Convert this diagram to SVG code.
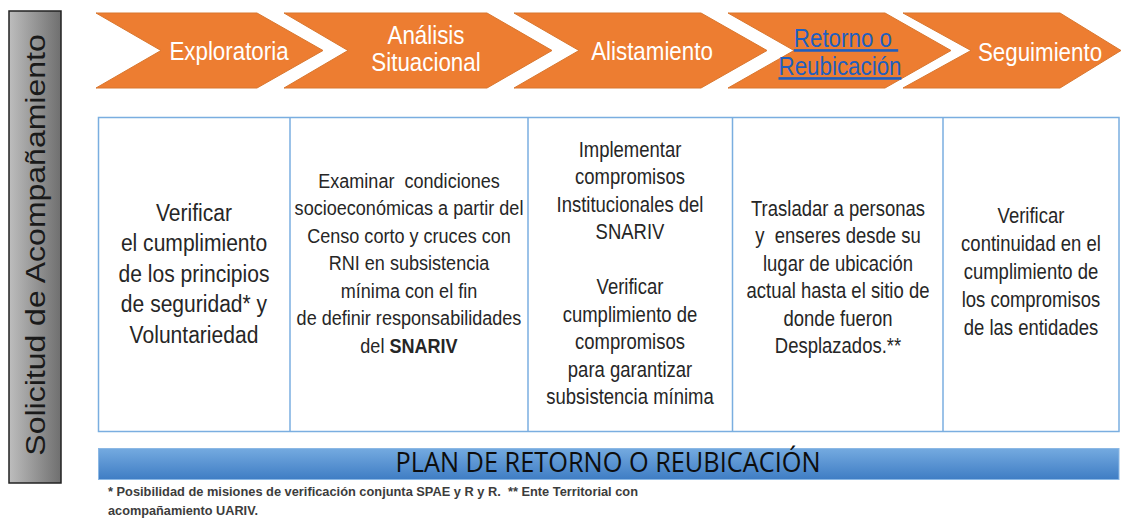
<svg xmlns="http://www.w3.org/2000/svg" width="1121" height="519" viewBox="0 0 1121 519">
<defs>
<linearGradient id="gBar" x1="0" y1="0" x2="1" y2="0">
<stop offset="0" stop-color="#bdbdbd"/>
<stop offset="1" stop-color="#6f6f6f"/>
</linearGradient>
<linearGradient id="gBlue" x1="0" y1="0" x2="0" y2="1">
<stop offset="0" stop-color="#74aae0"/>
<stop offset="1" stop-color="#3f7dc4"/>
</linearGradient>
</defs>
<style>
.chev{fill:#ed7d31;stroke:#d9772f;stroke-width:1}
.ct{font-family:"Liberation Sans",Arial,sans-serif;font-size:26px;fill:#ffffff;text-anchor:middle}
.lk{fill:#1f5fbf;text-decoration:underline}
.cell{fill:none;stroke:#7aaee0;stroke-width:1.5}
.tx{font-family:"Liberation Sans",Arial,sans-serif;fill:#262626;text-anchor:middle}
.fn{font-family:"Liberation Sans",Arial,sans-serif;font-weight:bold;font-size:12.5px;fill:#3c3c3c}
</style>

<g id="side">
<rect x="9" y="11" width="52" height="472" fill="url(#gBar)" stroke="#222" stroke-width="1.5"/>
<text transform="translate(45 245) scale(0.86 1) rotate(-90)" x="0" y="0" style="font-family:'Liberation Sans',Arial,sans-serif;font-size:32px;fill:#1a1a1a;text-anchor:middle">Solicitud de Acompañamiento</text>
</g>

<g id="phase1">
<polygon class="chev" points="96,13 257,13 323,50.5 257,88 96,88 161,50.5"/>
<text class="ct" transform="translate(229 0) scale(0.86 1)" x="0" y="60">Exploratoria</text>
</g>
<g id="phase2">
<polygon class="chev" points="284,13 487,13 552,50.5 487,88 284,88 348,50.5"/>
<text class="ct" transform="translate(426 0) scale(0.86 1)"><tspan x="0" y="44">Análisis</tspan><tspan x="0" y="71">Situacional</tspan></text>
</g>
<g id="phase3">
<polygon class="chev" points="514,13 701,13 767,50.5 701,88 514,88 579,50.5"/>
<text class="ct" transform="translate(652 0) scale(0.86 1)" x="0" y="60">Alistamiento</text>
</g>
<g id="phase4">
<polygon class="chev" points="728,13 885,13 951,50.5 885,88 728,88 794,50.5"/>
<text class="ct lk" transform="translate(846 0) scale(0.86 1)"><tspan x="0" y="47">Retorno o&#160;</tspan><tspan x="-7" y="75">Reubicación</tspan></text>
</g>
<g id="phase5">
<polygon class="chev" points="903,13 1060,13 1121,50.5 1060,88 903,88 971,50.5"/>
<text class="ct" transform="translate(1040 0) scale(0.86 1)" x="0" y="61">Seguimiento</text>
</g>

<g id="table">
<rect class="cell" x="98.5" y="117.5" width="1020.5" height="314"/>
<line class="cell" x1="290" y1="117.5" x2="290" y2="431.5"/>
<line class="cell" x1="528" y1="117.5" x2="528" y2="431.5"/>
<line class="cell" x1="732.5" y1="117.5" x2="732.5" y2="431.5"/>
<line class="cell" x1="943" y1="117.5" x2="943" y2="431.5"/>
</g>

<g id="cell1">
<text class="tx" style="font-size:24.5px" transform="translate(194 0) scale(0.86 1)"><tspan x="0" y="221">Verificar</tspan><tspan x="0" y="251.5">el cumplimiento</tspan><tspan x="0" y="282">de los principios</tspan><tspan x="0" y="312.5">de seguridad* y</tspan><tspan x="0" y="343">Voluntariedad</tspan></text>
</g>
<g id="cell2">
<text class="tx" style="font-size:21px" transform="translate(409 0) scale(0.86 1)"><tspan x="0" y="188">Examinar&#160; condiciones</tspan><tspan x="0" y="215.5">socioeconómicas a partir del</tspan><tspan x="0" y="243">Censo corto y cruces con</tspan><tspan x="0" y="270.5">RNI en subsistencia</tspan><tspan x="0" y="298">mínima con el fin</tspan><tspan x="0" y="325.5">de definir responsabilidades</tspan><tspan x="0" y="353">del <tspan font-weight="bold">SNARIV</tspan></tspan></text>
</g>
<g id="cell3">
<text class="tx" style="font-size:21.5px" transform="translate(630 0) scale(0.86 1)"><tspan x="0" y="157">Implementar</tspan><tspan x="0" y="184.5">compromisos</tspan><tspan x="0" y="212">Institucionales del</tspan><tspan x="0" y="239.5">SNARIV</tspan><tspan x="0" y="294.5">Verificar</tspan><tspan x="0" y="322">cumplimiento de</tspan><tspan x="0" y="349.5">compromisos</tspan><tspan x="0" y="377">para garantizar</tspan><tspan x="0" y="404.5">subsistencia mínima</tspan></text>
</g>
<g id="cell4">
<text class="tx" style="font-size:21.5px" transform="translate(838 0) scale(0.86 1)"><tspan x="0" y="216">Trasladar a personas</tspan><tspan x="0" y="243.5">y&#160; enseres desde su</tspan><tspan x="0" y="271">lugar de ubicación</tspan><tspan x="0" y="298.5">actual hasta el sitio de</tspan><tspan x="0" y="326">donde fueron</tspan><tspan x="0" y="353.5">Desplazados.**</tspan></text>
</g>
<g id="cell5">
<text class="tx" style="font-size:21.5px" transform="translate(1031 0) scale(0.86 1)"><tspan x="0" y="223">Verificar</tspan><tspan x="0" y="251">continuidad en el</tspan><tspan x="0" y="279">cumplimiento de</tspan><tspan x="0" y="307">los compromisos</tspan><tspan x="0" y="335">de las entidades</tspan></text>
</g>

<g id="plan">
<rect x="98.5" y="448.5" width="1020.5" height="31" fill="url(#gBlue)" stroke="#8cb8e4" stroke-width="1"/>
<text x="608" y="472" textLength="425" lengthAdjust="spacingAndGlyphs" style="font-family:'Open Sans','Liberation Sans',sans-serif;font-size:27px;fill:#0d0d0d;text-anchor:middle">PLAN DE RETORNO O REUBICACIÓN</text>
</g>

<g id="footnote">
<text class="fn" x="108" y="496" textLength="530" lengthAdjust="spacingAndGlyphs">* Posibilidad de misiones de verificación conjunta SPAE y R y R.&#160; ** Ente Territorial con</text>
<text class="fn" x="108" y="515" textLength="150" lengthAdjust="spacingAndGlyphs">acompañamiento UARIV.</text>
</g>
</svg>
